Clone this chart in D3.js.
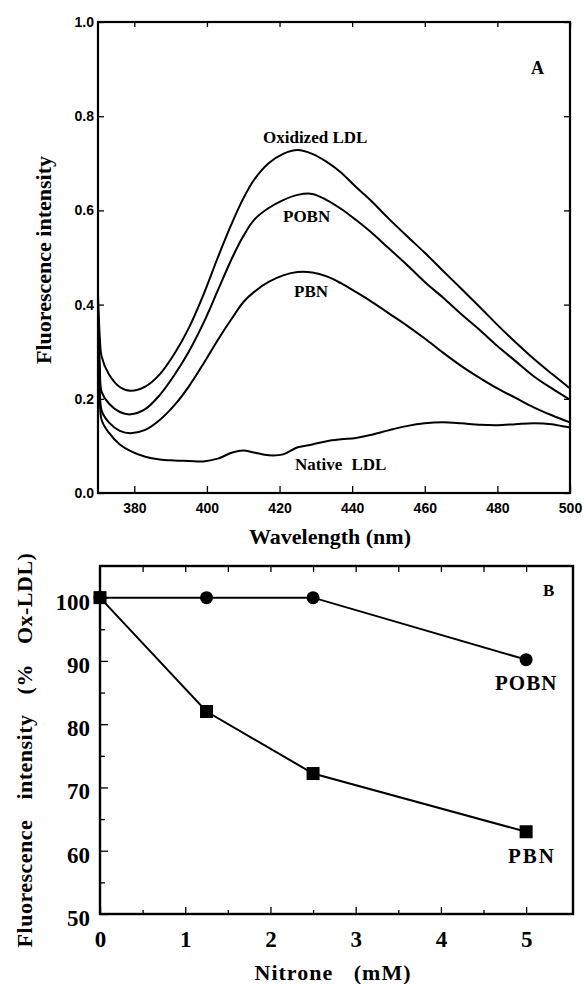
<!DOCTYPE html>
<html>
<head>
<meta charset="utf-8">
<script src="https://cdn.jsdelivr.net/npm/d3@7"></script>
<style>
  body { margin: 0; background: #fff; }
  svg { display: block; }
</style>
</head>
<body>
<svg width="587" height="984"></svg>
<script>
// Panel A: emission spectra
const wavelength = [370, 370.5, 371, 373, 376, 379, 383, 387, 391, 395, 399, 403, 407, 410, 413, 417, 421, 425, 429, 433, 437, 441, 445, 450, 455, 460, 465, 470, 475, 480, 485, 490, 495, 500];
const oxidizedLDL = [0.42, 0.33, 0.29, 0.252, 0.225, 0.217, 0.226, 0.252, 0.295, 0.35, 0.42, 0.50, 0.575, 0.625, 0.665, 0.70, 0.72, 0.728, 0.72, 0.703, 0.68, 0.65, 0.622, 0.583, 0.546, 0.51, 0.472, 0.434, 0.396, 0.357, 0.32, 0.285, 0.253, 0.222];
const pobnSpec = [0.40, 0.27, 0.215, 0.19, 0.172, 0.167, 0.178, 0.208, 0.25, 0.30, 0.36, 0.43, 0.50, 0.545, 0.58, 0.605, 0.622, 0.633, 0.635, 0.622, 0.603, 0.58, 0.555, 0.52, 0.485, 0.448, 0.415, 0.38, 0.347, 0.312, 0.28, 0.248, 0.222, 0.198];
const pbnSpec = [0.38, 0.24, 0.175, 0.15, 0.132, 0.127, 0.134, 0.155, 0.186, 0.226, 0.274, 0.325, 0.372, 0.405, 0.427, 0.448, 0.462, 0.469, 0.468, 0.46, 0.445, 0.427, 0.408, 0.382, 0.356, 0.328, 0.298, 0.27, 0.245, 0.222, 0.202, 0.182, 0.165, 0.15];
const nativeLDL = [0.36, 0.22, 0.155, 0.128, 0.103, 0.089, 0.077, 0.071, 0.069, 0.068, 0.067, 0.073, 0.086, 0.09, 0.086, 0.08, 0.082, 0.097, 0.103, 0.11, 0.114, 0.117, 0.123, 0.133, 0.142, 0.148, 0.15, 0.148, 0.145, 0.144, 0.146, 0.148, 0.146, 0.139];
const wlTicks = [380, 400, 420, 440, 460, 480, 500];
const intTicks = [0, 0.2, 0.4, 0.6, 0.8, 1.0];

// Panel B: nitrone dose response
const nitrone = [0, 1.25, 2.5, 5];
const pobnPct = [100, 100, 100, 90.2];
const pbnPct = [100, 82, 72.2, 63];
const mMTicks = [0, 1, 2, 3, 4, 5];
const mMMinor = [0.5, 1.5, 2.5, 3.5, 4.5];
const pctTicks = [50, 60, 70, 80, 90, 100];
const pctMinor = [55, 65, 75, 85, 95];

const SERIF = '"Liberation Serif", "Times New Roman", Times, serif';
const SANS = '"Liberation Sans", Arial, Helvetica, sans-serif';

const svg = d3.select("svg");

function styleAxis(g, family, size) {
  g.select(".domain").remove();
  g.selectAll(".tick line").attr("stroke", "#000").attr("stroke-width", 1.3);
  g.selectAll("text")
    .attr("fill", "#000")
    .style("font-family", family)
    .style("font-weight", "bold")
    .style("font-size", size + "px");
}

function label(g, txt, x, y, size, extra) {
  const t = g.append("text")
    .attr("x", x).attr("y", y)
    .style("font-family", SERIF).style("font-weight", "bold")
    .style("font-size", size + "px")
    .text(txt);
  if (extra) extra(t);
  return t;
}

// ---------- Panel A ----------
const x = d3.scaleLinear().domain([370, 500]).range([98, 570]);
const y = d3.scaleLinear().domain([0, 1]).range([493, 22]);

const gA = svg.append("g");

gA.append("g").attr("transform", "translate(0,493)")
  .call(d3.axisBottom(x).tickValues(wlTicks).tickSize(-7).tickPadding(10).tickFormat(d3.format("d")))
  .call(g => styleAxis(g, SANS, 14));
gA.append("g").attr("transform", "translate(0,22)")
  .call(d3.axisTop(x).tickValues(wlTicks).tickSize(-5).tickFormat(""))
  .call(g => styleAxis(g, SANS, 14));
gA.append("g").attr("transform", "translate(98,0)")
  .call(d3.axisLeft(y).tickValues(intTicks).tickSize(-6).tickPadding(4).tickFormat(d3.format(".1f")))
  .call(g => styleAxis(g, SANS, 14));
gA.append("g").attr("transform", "translate(570,0)")
  .call(d3.axisRight(y).tickValues(intTicks).tickSize(-6).tickFormat(""))
  .call(g => styleAxis(g, SANS, 14));

gA.append("rect")
  .attr("x", 98).attr("y", 22).attr("width", 570 - 98).attr("height", 493 - 22)
  .attr("fill", "none").attr("stroke", "#000").attr("stroke-width", 2.2);

const line = d3.line()
  .x((d, i) => x(wavelength[i]))
  .y(d => y(d))
  .curve(d3.curveCatmullRom);

[oxidizedLDL, pobnSpec, pbnSpec, nativeLDL].forEach(s => {
  gA.append("path").attr("d", line(s))
    .attr("fill", "none").attr("stroke", "#000").attr("stroke-width", 2);
});

label(gA, "Oxidized LDL", 263, 143, 17);
label(gA, "POBN", 283, 222, 17);
label(gA, "PBN", 294, 297, 17);
label(gA, "Native LDL", 295, 470, 17, t => t.style("word-spacing", "5px"));
label(gA, "A", 531, 74, 18);

label(gA, "Fluorescence intensity", 0, 0, 22, t =>
  t.attr("transform", "translate(51,260) rotate(-90)").attr("text-anchor", "middle"));
label(gA, "Wavelength (nm)", 330, 544, 22, t => t.attr("text-anchor", "middle"));

// ---------- Panel B ----------
const x2 = d3.scaleLinear().domain([0, 5.55]).range([100, 573]);
const y2 = d3.scaleLinear().domain([50, 105]).range([914, 566]);

const gB = svg.append("g");

gB.append("g").attr("transform", "translate(0,914)")
  .call(d3.axisBottom(x2).tickValues(mMTicks).tickSize(-7).tickPadding(17).tickFormat(d3.format("d")))
  .call(g => styleAxis(g, SERIF, 23));
gB.append("g").attr("transform", "translate(0,914)")
  .call(d3.axisBottom(x2).tickValues(mMMinor).tickSize(-4).tickFormat(""))
  .call(g => styleAxis(g, SERIF, 23));
gB.append("g").attr("transform", "translate(0,566)")
  .call(d3.axisTop(x2).tickValues(mMTicks.concat(mMMinor).filter(d => d > 0)).tickSize(-6).tickFormat(""))
  .call(g => styleAxis(g, SERIF, 23));
gB.append("g").attr("transform", "translate(100,0)")
  .call(d3.axisLeft(y2).tickValues(pctTicks).tickSize(-8).tickPadding(10).tickFormat(d3.format("d")))
  .call(g => styleAxis(g, SERIF, 23))
  .call(g => g.selectAll("text").attr("dy", "0.5em"));
gB.append("g").attr("transform", "translate(100,0)")
  .call(d3.axisLeft(y2).tickValues(pctMinor).tickSize(-5).tickFormat(""))
  .call(g => styleAxis(g, SERIF, 23));

gB.append("rect")
  .attr("x", 100).attr("y", 566).attr("width", 573 - 100).attr("height", 914 - 566)
  .attr("fill", "none").attr("stroke", "#000").attr("stroke-width", 2.4);

const line2 = d3.line().x((d, i) => x2(nitrone[i])).y(d => y2(d));

gB.append("path").attr("d", line2(pobnPct))
  .attr("fill", "none").attr("stroke", "#000").attr("stroke-width", 2);
gB.append("path").attr("d", line2(pbnPct))
  .attr("fill", "none").attr("stroke", "#000").attr("stroke-width", 2);

gB.selectAll(".dot").data(pobnPct).enter().append("circle")
  .attr("cx", (d, i) => x2(nitrone[i])).attr("cy", d => y2(d))
  .attr("r", 6.5).attr("fill", "#000");
gB.selectAll(".sq").data(pbnPct).enter().append("rect")
  .attr("x", (d, i) => x2(nitrone[i]) - 6.5).attr("y", d => y2(d) - 6.5)
  .attr("width", 13).attr("height", 13).attr("fill", "#000");

label(gB, "POBN", 495, 690, 21, t => t.style("letter-spacing", "1px"));
label(gB, "PBN", 508, 863, 21, t => t.style("letter-spacing", "2px"));
label(gB, "B", 543, 596, 17);

label(gB, "Fluorescence intensity (% Ox-LDL)", 0, 0, 22, t =>
  t.attr("transform", "translate(32,750) rotate(-90)").attr("text-anchor", "middle")
   .style("word-spacing", "14px").style("letter-spacing", "0.5px"));
label(gB, "Nitrone (mM)", 333, 980, 22, t =>
  t.attr("text-anchor", "middle").style("word-spacing", "14px").style("letter-spacing", "1px"));
</script>
</body>
</html>
